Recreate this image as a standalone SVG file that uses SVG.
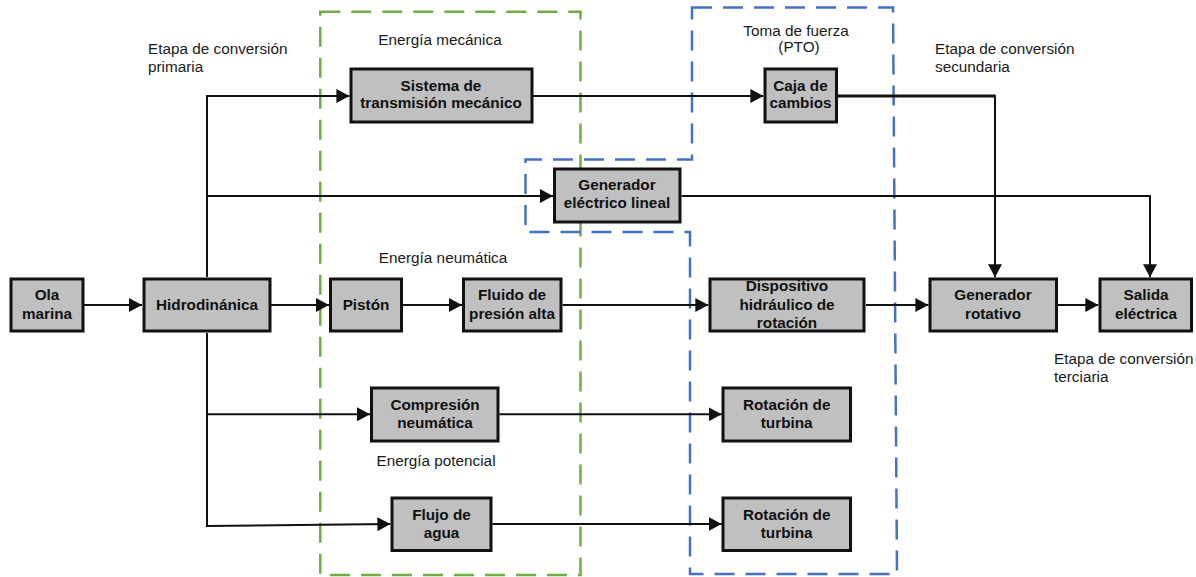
<svg xmlns="http://www.w3.org/2000/svg" width="1196" height="577" viewBox="0 0 1196 577">
  <style>
    .box { fill: #c0c0c0; stroke: #111; stroke-width: 3; }
    .lbl { font-family: "Liberation Sans", Arial, sans-serif; font-size: 15.3px; font-weight: bold; fill: #111; text-anchor: middle; }
    .note { font-family: "Liberation Sans", Arial, sans-serif; font-size: 15.3px; fill: #1a1a1a; }
    .mid { text-anchor: middle; }
    .wire { fill: none; stroke: #111; stroke-width: 2; }
    .thick { stroke-width: 3; }
    .grp-green { fill: none; stroke: #70ad47; stroke-width: 2.5; stroke-dasharray: 20 11; }
    .grp-blue { fill: none; stroke: #4472c4; stroke-width: 2.5; stroke-dasharray: 20 11; }
  </style>
  <defs>
    <marker id="arrow" markerUnits="userSpaceOnUse" markerWidth="13" markerHeight="14" refX="13" refY="7" orient="auto">
      <path d="M0,0 L13,7 L0,14 Z" fill="#111"/>
    </marker>
  </defs>
  <rect width="1196" height="577" fill="#ffffff"/>

  <!-- Grouping outlines -->
  <g id="groups">
    <rect class="grp-green" x="320.3" y="11.7" width="260.2" height="563.3"/>
    <path class="grp-blue" d="M692,7.5 L893,7.5 L897,574 L690,574 L690,232 L525.5,232 L525.5,159.5 L692,159.5 Z"/>
  </g>

  <!-- Stage and energy captions -->
  <g id="captions">
    <text class="note" x="148" y="54">Etapa de conversión</text>
    <text class="note" x="148" y="72">primaria</text>
    <text class="note mid" x="440" y="45">Energía mecánica</text>
    <text class="note mid" x="796" y="36">Toma de fuerza</text>
    <text class="note mid" x="799" y="52">(PTO)</text>
    <text class="note" x="935" y="54">Etapa de conversión</text>
    <text class="note" x="935" y="72">secundaria</text>
    <text class="note mid" x="443" y="263">Energía neumática</text>
    <text class="note mid" x="436" y="466">Energía potencial</text>
    <text class="note" x="1054" y="364">Etapa de conversión</text>
    <text class="note" x="1054" y="382">terciaria</text>
  </g>

  <!-- Connectors -->
  <g id="connectors">
    <path class="wire" d="M84,305 H142" marker-end="url(#arrow)"/>
    <path class="wire" d="M271,305 H329" marker-end="url(#arrow)"/>
    <path class="wire" d="M403,305 H462" marker-end="url(#arrow)"/>
    <path class="wire" d="M562.6,305 H708.3" marker-end="url(#arrow)"/>
    <path class="wire" d="M866,305 H928.4" marker-end="url(#arrow)"/>
    <path class="wire" d="M1058,305 H1098.3" marker-end="url(#arrow)"/>
    <path class="wire" d="M207,277 V96 H349.4" marker-end="url(#arrow)"/>
    <path class="wire" d="M207,196 H553" marker-end="url(#arrow)"/>
    <path class="wire" d="M207,333 V526 L390.4,524" marker-end="url(#arrow)"/>
    <path class="wire" d="M207,414.3 H370" marker-end="url(#arrow)"/>
    <path class="wire" d="M533,96 H763.4" marker-end="url(#arrow)"/>
    <path class="wire thick" d="M838,96 H995"/>
    <path class="wire" d="M995,95 V277.3" marker-end="url(#arrow)"/>
    <path class="wire" d="M681.5,196 H1150 V277.3" marker-end="url(#arrow)"/>
    <path class="wire" d="M499.4,414.3 H721.7" marker-end="url(#arrow)"/>
    <path class="wire" d="M492.5,524 H721.7" marker-end="url(#arrow)"/>
  </g>

  <!-- Nodes -->
  <g id="ola-marina">
    <rect class="box" x="11" y="279" width="72" height="52"/>
    <text class="lbl" x="47" y="300">Ola</text>
    <text class="lbl" x="47" y="319">marina</text>
  </g>
  <g id="hidrodinamica">
    <rect class="box" x="144" y="279" width="126" height="52"/>
    <text class="lbl" x="207" y="310">Hidrodinánica</text>
  </g>
  <g id="piston">
    <rect class="box" x="330.5" y="279" width="71" height="52"/>
    <text class="lbl" x="366" y="310">Pistón</text>
  </g>
  <g id="fluido-presion">
    <rect class="box" x="463.5" y="279" width="97.5" height="52"/>
    <text class="lbl" x="512" y="300">Fluido de</text>
    <text class="lbl" x="512" y="319">presión alta</text>
  </g>
  <g id="sistema-transmision">
    <rect class="box" x="351" y="69" width="181" height="53"/>
    <text class="lbl" x="441" y="91">Sistema de</text>
    <text class="lbl" x="441" y="108">transmisión mecánico</text>
  </g>
  <g id="caja-cambios">
    <rect class="box" x="765" y="69" width="71.5" height="53"/>
    <text class="lbl" x="800.5" y="91">Caja de</text>
    <text class="lbl" x="800.5" y="108">cambios</text>
  </g>
  <g id="generador-lineal">
    <rect class="box" x="554.5" y="169" width="125.5" height="53"/>
    <text class="lbl" x="617" y="190">Generador</text>
    <text class="lbl" x="617" y="208">eléctrico lineal</text>
  </g>
  <g id="compresion-neumatica">
    <rect class="box" x="371.5" y="388" width="126.5" height="53"/>
    <text class="lbl" x="435" y="409.5">Compresión</text>
    <text class="lbl" x="435" y="428">neumática</text>
  </g>
  <g id="flujo-agua">
    <rect class="box" x="392" y="498" width="99" height="52.5"/>
    <text class="lbl" x="441.5" y="519.5">Flujo de</text>
    <text class="lbl" x="441.5" y="538">agua</text>
  </g>
  <g id="dispositivo-hidraulico">
    <rect class="box" x="710" y="279" width="154" height="52"/>
    <text class="lbl" x="787" y="291">Dispositivo</text>
    <text class="lbl" x="787" y="309.5">hidráulico de</text>
    <text class="lbl" x="787" y="328">rotación</text>
  </g>
  <g id="generador-rotativo">
    <rect class="box" x="930" y="279" width="126.5" height="52"/>
    <text class="lbl" x="993" y="300">Generador</text>
    <text class="lbl" x="993" y="319">rotativo</text>
  </g>
  <g id="salida-electrica">
    <rect class="box" x="1100" y="279" width="91.5" height="52"/>
    <text class="lbl" x="1146" y="300">Salida</text>
    <text class="lbl" x="1146" y="319">eléctrica</text>
  </g>
  <g id="rotacion-turbina-1">
    <rect class="box" x="723" y="388" width="127.5" height="53"/>
    <text class="lbl" x="786.7" y="409.5">Rotación de</text>
    <text class="lbl" x="786.7" y="428">turbina</text>
  </g>
  <g id="rotacion-turbina-2">
    <rect class="box" x="723" y="498" width="127.5" height="52.5"/>
    <text class="lbl" x="786.7" y="519.5">Rotación de</text>
    <text class="lbl" x="786.7" y="538">turbina</text>
  </g>
</svg>
